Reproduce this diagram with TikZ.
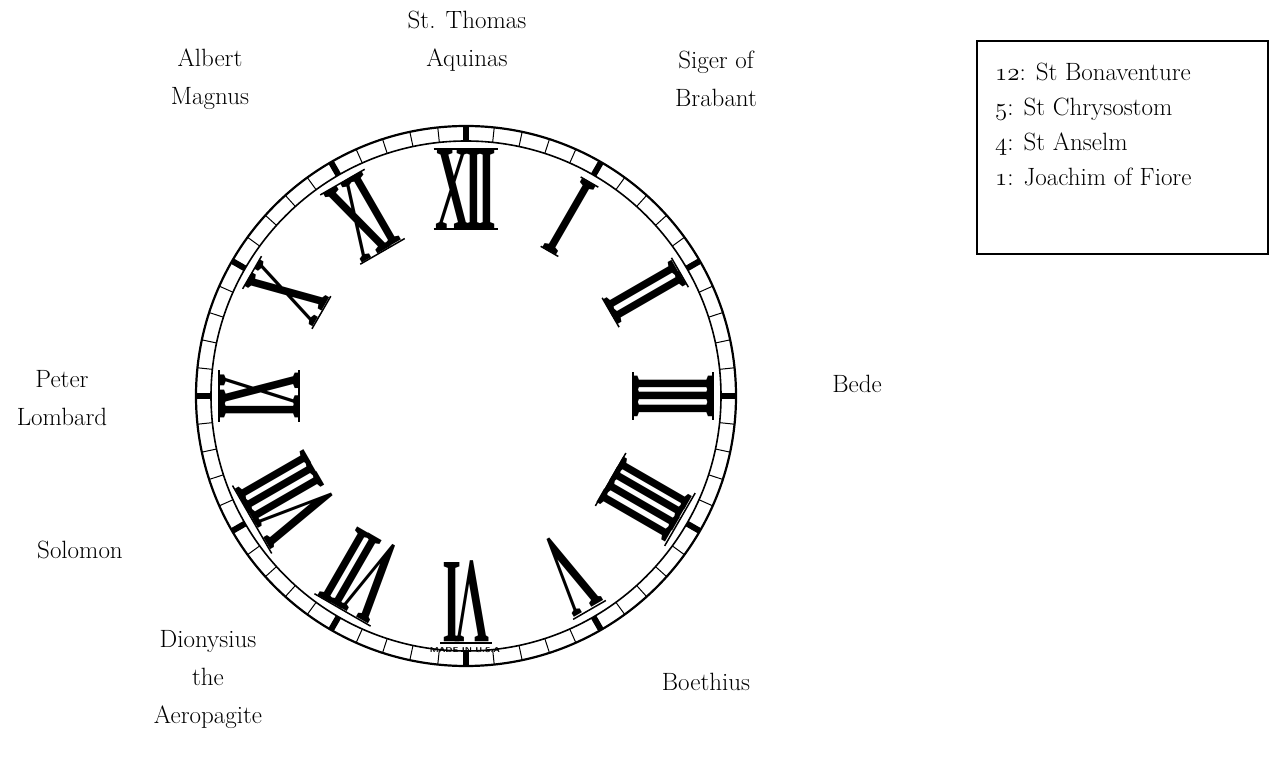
\documentclass[tikz,border=0pt]{standalone}
\usepackage{fontspec}
\usepackage{graphicx}
\usetikzlibrary{calc}
\newfontfamily\numfont{Liberation Serif}
\newcommand{\osn}[1]{{\usefont{OML}{cmm}{m}{it}#1}}
\newcommand{\nk}{\kern-0.13em}
\begin{document}
\begin{tikzpicture}[x=1pt,y=1pt,
 lbl/.style={font=\fontsize{25}{38}\selectfont, align=center, inner sep=0pt},
 leg/.style={font=\fontsize{25}{30}\selectfont, anchor=base west, inner sep=0pt},
 numeral/.style={font=\numfont\bfseries\fontsize{121}{121}\selectfont, inner sep=0pt, outer sep=0pt},
 serifbar/.style={line width=1.5pt},
 minute/.style={line width=1pt},
 hourmark/.style={line width=6pt}]
\useasboundingbox (0,0) rectangle (1270,764);
\coordinate (C) at (466,368);
% dial ring
\draw[line width=2.2pt] (C) circle[radius=270];
\draw[line width=1.6pt] (C) circle[radius=255];
\foreach \i in {0,...,59}{
  \pgfmathtruncatemacro\m{mod(\i,5)}
  \ifnum\m=0
    \draw[hourmark] ($(C)+({90-6*\i}:255)$) -- ($(C)+({90-6*\i}:270)$);
  \else
    \draw[minute] ($(C)+({90-6*\i}:255)$) -- ($(C)+({90-6*\i}:270)$);
  \fi
}
% numerals
\foreach \h/\t in {1/I,2/I\nk I,3/I\nk I\nk I,4/I\nk I\nk I\nk I,5/V,6/V\nk I,7/V\nk I\nk I,8/V\nk I\nk I\nk I,9/I\nk X,10/X,11/X\nk I,12/X\nk I\nk I}{
  \node[numeral, rotate={-30*\h}] (n\h) at ($(C)+({90-30*\h}:207)$) {\rule{0pt}{80pt}\smash{\scalebox{0.40}[1]{\t}}};
  \draw[serifbar] ($(n\h.north west)!-0.04!(n\h.north east)$) -- ($(n\h.north east)!-0.04!(n\h.north west)$);
  \ifnum\h<5
    \draw[serifbar] ($(n\h.south west)!-0.04!(n\h.south east)$) -- ($(n\h.south east)!-0.04!(n\h.south west)$);
  \fi
  \ifnum\h>8
    \draw[serifbar] ($(n\h.south west)!-0.04!(n\h.south east)$) -- ($(n\h.south east)!-0.04!(n\h.south west)$);
  \fi
}
\node[font=\sffamily\bfseries\fontsize{7}{8}\selectfont, inner sep=0pt] (made) at (465,114) {\scalebox{1.3}[1]{MADE IN U.S.A}};
% labels
\node[lbl] (aquinas) at (467,723) {St. Thomas\\Aquinas};
\node[lbl] (albert) at (210,685) {Albert\\Magnus};
\node[lbl] (siger) at (716,685) {Siger of\\Brabant};
\node[lbl] (peter) at (62,366) {Peter\\Lombard};
\node[lbl] (bede) at (857,380) {Bede};
\node[lbl] (solomon) at (80,214) {Solomon};
\node[lbl] (dionysius) at (208,84) {Dionysius\\the\\Aeropagite};
\node[lbl] (boethius) at (706,82) {Boethius};
% legend
\node[draw, line width=1.2pt, minimum width=291, minimum height=213, inner sep=0pt] (box) at (1122.5,616.5) {};
\node[leg] (l1) at (995,683) {\osn{12}: St Bonaventure};
\node[leg] (l2) at (995,648) {\osn{5}: St Chrysostom};
\node[leg] (l3) at (995,613) {\osn{4}: St Anselm};
\node[leg] (l4) at (995,578) {\osn{1}: Joachim of Fiore};
\end{tikzpicture}
\end{document}
